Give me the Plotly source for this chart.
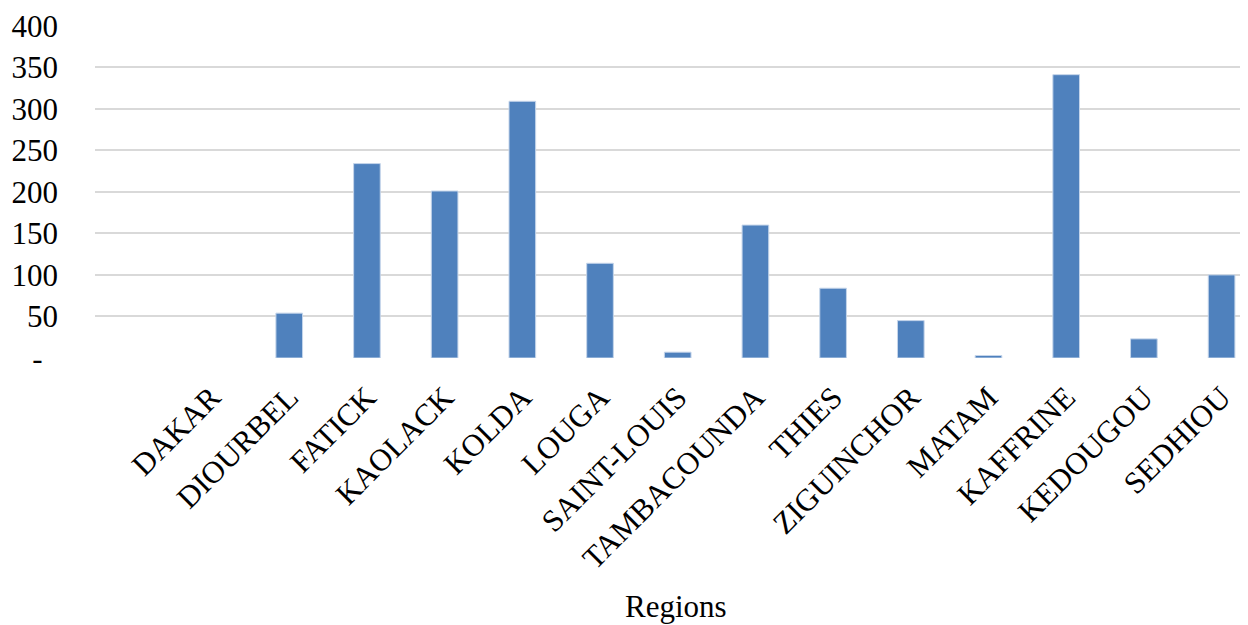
import plotly.graph_objects as go

regions = ["DAKAR", "DIOURBEL", "FATICK", "KAOLACK", "KOLDA", "LOUGA", "SAINT-LOUIS",
           "TAMBACOUNDA", "THIES", "ZIGUINCHOR", "MATAM", "KAFFRINE", "KEDOUGOU", "SEDHIOU"]
values = [0, 54, 234, 201, 309, 114, 7, 160, 84, 45, 3, 341, 23, 100]

y_tickvals = [0, 50, 100, 150, 200, 250, 300, 350, 400]
y_ticktext = ["-\u00a0\u00a0", "50", "100", "150", "200", "250", "300", "350", "400"]
x_title = "Regions"

# page body adds an 8px margin; compensate
OFF = 8
W, H = 1248 - OFF, 625 - OFF
left, top, bottom_y = 94.5 - OFF, 24.5 - OFF, 358.5 - OFF

fig = go.Figure()
fig.add_trace(go.Bar(
    x=list(range(len(regions))), y=values,
    width=0.343,
    marker=dict(color="#4F81BD",
                line=dict(color="#c5d5ea", width=[0 if v == 0 else 1 for v in values])),
))

font = dict(family="Liberation Serif, Times New Roman, serif", size=31, color="#000000")

fig.update_layout(
    width=W, height=H,
    margin=dict(l=left, r=0, t=top, b=H - bottom_y, pad=0),
    plot_bgcolor="white", paper_bgcolor="white",
    showlegend=False,
    font=font,
    xaxis=dict(
        range=[-1.5, 13.34],
        tickmode="array", tickvals=list(range(len(regions))), ticktext=regions,
        tickangle=-45, showgrid=False, zeroline=False, showline=False,
        ticks="", tickfont=font, ticklabelstandoff=14,
    ),
    yaxis=dict(
        range=[0, 400.8],
        tickmode="array", tickvals=y_tickvals, ticktext=y_ticktext,
        showgrid=True, gridcolor="#d9d9d9", gridwidth=1.5,
        zeroline=False, showline=False, ticks="", tickfont=font,
        ticklabelstandoff=36,
    ),
    annotations=[dict(
        text=x_title, xref="paper", yref="paper",
        x=(676 - OFF - left) / (W - left), y=(bottom_y - (608 - OFF)) / (bottom_y - top),
        xanchor="center", yanchor="middle", showarrow=False, font=font,
    )],
)

fig.write_html("out.html")
